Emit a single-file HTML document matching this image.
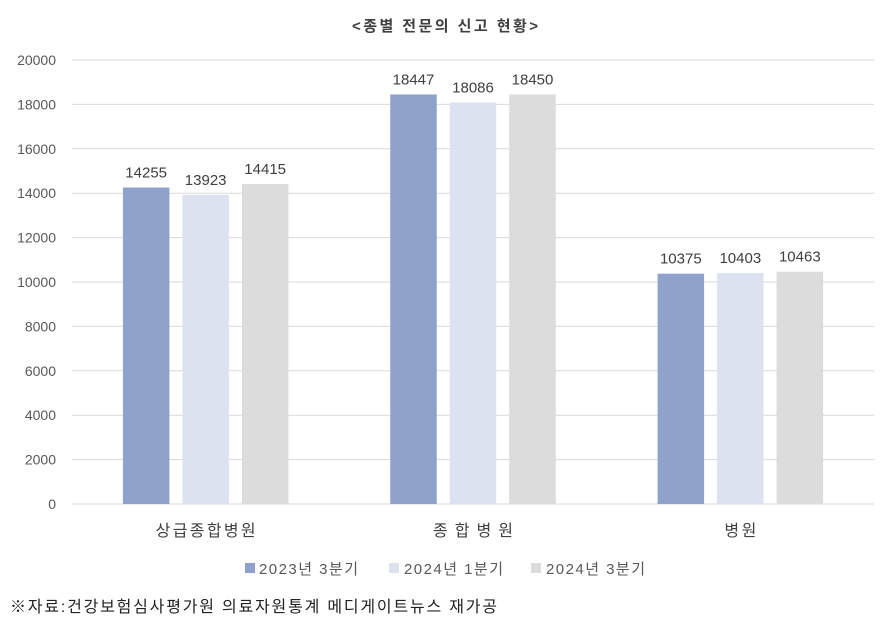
<!DOCTYPE html>
<html><head><meta charset="utf-8"><style>
body{margin:0;background:#fff;}
svg{display:block;font-family:"Liberation Sans","Noto Sans CJK KR",sans-serif;}
</style></head><body>
<svg id="chart" width="889" height="627" viewBox="0 0 889 627">
<text x="445" y="31" text-anchor="middle" font-size="15" font-weight="bold" fill="#404040" textLength="186" lengthAdjust="spacing">&lt;종별 전문의 신고 현황&gt;</text>
<g id="grid"></g><g id="bars"></g><g id="labels"></g>
<g>
<rect x="245" y="563" width="10" height="10" fill="#8fa2cb"/>
<text x="259" y="574" font-size="15" fill="#595959" textLength="99" lengthAdjust="spacing">2023년 3분기</text>
<rect x="389" y="563" width="10" height="10" fill="#dde2f0"/>
<text x="404" y="574" font-size="15" fill="#595959" textLength="99" lengthAdjust="spacing">2024년 1분기</text>
<rect x="531" y="563" width="10" height="10" fill="#dcdcdc"/>
<text x="546" y="574" font-size="15" fill="#595959" textLength="99" lengthAdjust="spacing">2024년 3분기</text>
</g>
<text x="10" y="612" font-size="16" fill="#222" textLength="487" lengthAdjust="spacing">※자료:건강보험심사평가원 의료자원통계 메디게이트뉴스 재가공</text>
</svg>
<script>
const categories=["상급종합병원","종합병원","병원"];
const catWidths=[100,80,32];
const s2023q3=[14255,18447,10375];
const s2024q1=[13923,18086,10403];
const s2024q3=[14415,18450,10463];
const yTicks=[0,2000,4000,6000,8000,10000,12000,14000,16000,18000,20000];
const series=[s2023q3,s2024q1,s2024q3];
const colors=["#8fa2cb","#dde2f0","#dcdcdc"];
const sNames=["2023q3","2024q1","2024q3"];
const NS="http://www.w3.org/2000/svg";
const x0=72,x1=874,yTop=60,yBot=504,maxV=20000;
const y=v=>yBot-(v/maxV)*(yBot-yTop);
const bw=(x1-x0)/categories.length;
const xc=i=>x0+bw*(i+0.5);
function mk(tag,attrs,parent){const e=document.createElementNS(NS,tag);for(const k in attrs)e.setAttribute(k,attrs[k]);parent.appendChild(e);return e;}
const grid=document.getElementById('grid'),bars=document.getElementById('bars'),labels=document.getElementById('labels');
yTicks.forEach(t=>{
  const l=mk('line',{x1:x0,x2:x1,y1:y(t),y2:y(t),stroke:'#d9d9d9','stroke-width':1},grid);
  
  
  const tx=mk('text',{x:56,y:y(t)+5,'text-anchor':'end','font-size':14,fill:'#595959'},grid);
  tx.textContent=t;
  
  
});
const barW=46.5,step=59.5;
categories.forEach((c,i)=>{
  series.forEach((s,j)=>{
    const bx=xc(i)+(j-1)*step-barW/2;
    const r=mk('rect',{x:bx,y:y(s[i]),width:barW,height:yBot-y(s[i]),fill:colors[j]},bars);
    
    
    const v=mk('text',{x:bx+barW/2,y:y(s[i])-10,'text-anchor':'middle','font-size':15,fill:'#404040'},labels);
    v.textContent=s[i];
    
    
  });
  const ct=mk('text',{x:xc(i),y:536,'text-anchor':'middle','font-size':16,fill:'#404040',textLength:catWidths[i],lengthAdjust:'spacing'},labels);
  ct.textContent=c;
  
  
});
</script>
</body></html>
